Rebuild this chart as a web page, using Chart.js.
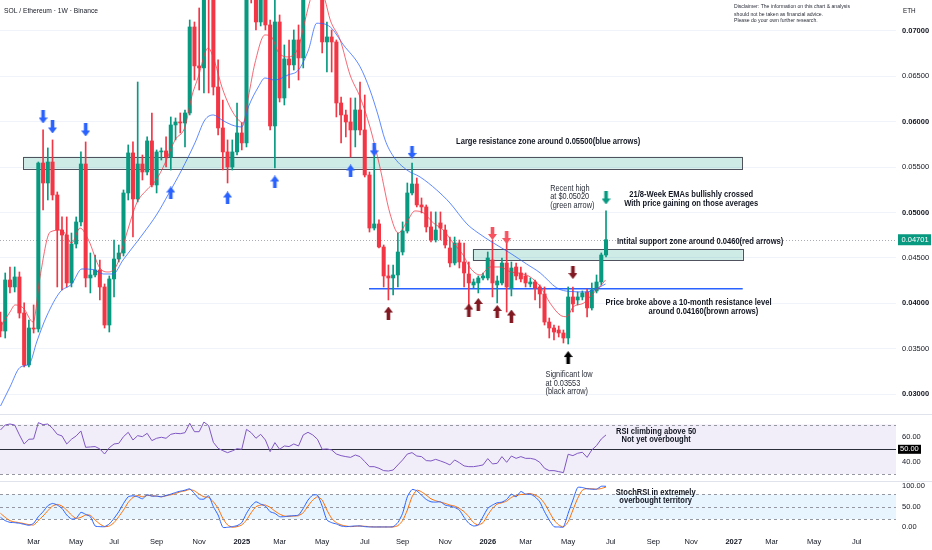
<!DOCTYPE html>
<html>
<head>
<meta charset="utf-8">
<script src="https://cdn.jsdelivr.net/npm/chart.js@4.4.1/dist/chart.umd.min.js"></script>
<style>
  html, body { margin: 0; padding: 0; background: #fff; }
  #wrap { position: relative; width: 932px; height: 550px; overflow: hidden; }
  .pane { position: absolute; left: 0; width: 932px; }
  #p1 { top: 0; height: 414px; }
  #p2 { top: 414px; height: 67px; }
  #p3 { top: 481px; height: 69px; }
  .sep { position: absolute; left: 0; width: 932px; height: 1px; background: #E0E3EB; z-index: 5; }
</style>
</head>
<body>
<div id="wrap">
  <div class="pane" id="p1"><canvas id="main"></canvas></div>
  <div class="pane" id="p2"><canvas id="rsi"></canvas></div>
  <div class="pane" id="p3"><canvas id="stoch"></canvas></div>
  <div class="sep" style="top:414px"></div>
  <div class="sep" style="top:481px"></div>
</div>
<script>
// weekly candles, SOL/ETH, week 0 = mid Jan 2024
const open = [0.03795,0.03696,0.04258,0.04181,0.04291,0.03894,0.03322,0.03729,0.03718,0.05546,
  0.05326,0.05557,0.05194,0.04808,0.04753,0.04225,0.04654,0.04897,0.05535,0.04280,
  0.04313,0.04368,0.04181,0.03762,0.04269,0.04489,0.04555,0.05216,0.05657,0.05150,
  0.05535,0.05447,0.05789,0.05304,0.05668,0.05679,0.05612,0.05965,0.05998,0.05987,
  0.06097,0.07044,0.06615,0.06593,0.07452,0.07363,0.06383,0.05932,0.05668,0.05502,
  0.05668,0.05877,0.05767,0.07507,0.07396,0.07099,0.07452,0.07066,0.05954,0.07099,
  0.06262,0.06692,0.06626,0.06901,0.06703,0.07562,0.07837,0.07727,0.07396,0.06879,
  0.06934,0.06879,0.06207,0.06075,0.05998,0.05910,0.06130,0.05910,0.05414,0.04830,
  0.04875,0.04621,0.04302,0.04280,0.04313,0.04566,0.04797,0.05216,0.05315,0.05084,
  0.05062,0.04842,0.04698,0.04886,0.04808,0.04610,0.04445,0.04665,0.04456,0.04324,
  0.04203,0.04225,0.04280,0.04280,0.04478,0.04203,0.04225,0.04445,0.04170,0.04401,
  0.04335,0.04302,0.04214,0.04236,0.04181,0.04104,0.03795,0.03729,0.03707,0.03674,
  0.03619,0.04071,0.04038,0.04071,0.04126,0.03950,0.04137,0.04236,0.04533];
const high = [0.03905,0.04335,0.04401,0.04401,0.04346,0.04005,0.03817,0.03983,0.05557,0.05910,
  0.05712,0.05800,0.05227,0.04952,0.04952,0.04775,0.04952,0.05668,0.05778,0.04555,
  0.04533,0.04478,0.04214,0.04302,0.04698,0.04643,0.05249,0.05745,0.05778,0.06438,
  0.05634,0.05833,0.06097,0.05690,0.05712,0.05833,0.06053,0.06042,0.06097,0.06130,
  0.07121,0.07099,0.07253,0.07672,0.07727,0.07452,0.06681,0.06240,0.05800,0.05800,
  0.06207,0.05987,0.07672,0.07650,0.07562,0.07562,0.07507,0.07121,0.07396,0.07176,
  0.06846,0.06901,0.07011,0.07066,0.07672,0.07947,0.07947,0.07892,0.07507,0.07099,
  0.07011,0.06901,0.06273,0.06130,0.06262,0.06262,0.06438,0.06295,0.05447,0.05634,
  0.04919,0.04643,0.04423,0.04423,0.04775,0.04897,0.05326,0.05546,0.05381,0.05161,
  0.05084,0.05007,0.05007,0.05007,0.04864,0.04731,0.04731,0.04698,0.04665,0.04456,
  0.04269,0.04302,0.04335,0.04566,0.04698,0.04302,0.04500,0.04698,0.04456,0.04445,
  0.04401,0.04335,0.04280,0.04258,0.04203,0.04181,0.03839,0.03762,0.03751,0.03707,
  0.04181,0.04181,0.04126,0.04137,0.04159,0.04225,0.04313,0.04555,0.05020];
const low = [0.03630,0.03619,0.04115,0.04126,0.03839,0.03300,0.03300,0.03674,0.03685,0.05029,
  0.05139,0.05139,0.04181,0.04148,0.04181,0.04181,0.04610,0.04853,0.04181,0.04115,
  0.04291,0.04038,0.03729,0.03685,0.04071,0.04456,0.04522,0.05139,0.04731,0.05117,
  0.05359,0.05414,0.05282,0.05216,0.05579,0.05502,0.05469,0.05800,0.05877,0.05723,
  0.06075,0.06460,0.06350,0.06317,0.06317,0.06295,0.05855,0.05469,0.05326,0.05469,
  0.05634,0.05690,0.05723,0.07308,0.07011,0.07055,0.07011,0.05910,0.05491,0.06218,
  0.06185,0.06372,0.06570,0.06460,0.06593,0.07452,0.07562,0.07363,0.06758,0.06548,
  0.06548,0.06053,0.05767,0.05833,0.05612,0.05723,0.05855,0.05392,0.04786,0.04808,
  0.04610,0.04181,0.04038,0.04093,0.04181,0.04533,0.04775,0.05194,0.05062,0.04996,
  0.04786,0.04676,0.04676,0.04698,0.04610,0.04401,0.04423,0.04390,0.04181,0.03961,
  0.04170,0.04115,0.04258,0.04258,0.04071,0.04005,0.04203,0.03905,0.04082,0.04258,
  0.04236,0.04181,0.04181,0.04038,0.03950,0.03762,0.03619,0.03597,0.03630,0.03564,
  0.03553,0.03905,0.03983,0.04038,0.03850,0.03927,0.04115,0.04203,0.04511];
const close = [0.03696,0.04258,0.04181,0.04291,0.03894,0.03322,0.03729,0.03718,0.05546,0.05326,
  0.05557,0.05194,0.04808,0.04753,0.04225,0.04654,0.04897,0.05535,0.04280,0.04313,
  0.04368,0.04181,0.03762,0.04269,0.04489,0.04555,0.05216,0.05657,0.05150,0.05535,
  0.05447,0.05789,0.05304,0.05668,0.05679,0.05612,0.05965,0.05998,0.05987,0.06097,
  0.07044,0.06615,0.06593,0.07452,0.07363,0.06383,0.05932,0.05668,0.05502,0.05668,
  0.05877,0.05767,0.07507,0.07396,0.07099,0.07452,0.07066,0.05954,0.07099,0.06262,
  0.06692,0.06626,0.06901,0.06703,0.07562,0.07837,0.07727,0.07396,0.06879,0.06934,
  0.06879,0.06207,0.06075,0.05998,0.05910,0.06130,0.05910,0.05414,0.04830,0.04875,
  0.04621,0.04302,0.04280,0.04313,0.04566,0.04797,0.05216,0.05315,0.05084,0.05062,
  0.04842,0.04698,0.04808,0.04830,0.04643,0.04445,0.04665,0.04456,0.04335,0.04225,
  0.04236,0.04280,0.04302,0.04500,0.04225,0.04247,0.04445,0.04181,0.04390,0.04302,
  0.04269,0.04225,0.04236,0.04170,0.04104,0.03795,0.03729,0.03685,0.03674,0.03619,
  0.04071,0.03994,0.04071,0.04115,0.03950,0.04148,0.04236,0.04533,0.04701];

// 8 and 21 week EMAs: [week, price]
const ema8Week = [0,2,3.1,4.8,6.9,8.35,10.5,12.9,15.05,16.8,18.6,21,22.8,24.6,26.7,28.8,30.9,32.9,34.8,36.9,
  39,40.4,41.8,43.9,45.35,46.8,48.5,50.3,51.3,52.4,53.8,55.9,57.3,58.7,60.8,63,64.4,65.8,67.2,68.6,
  69.7,71.8,73.9,76,78.1,80.2,82.3,84.1,85.9,87.6,89.4,91.5,93.6,95.7,97.8,99.3,101.4,103.5,105.6,107.7,
  109.8,111.9,114.1,116.2,118.3,119.7,121.1,123.2,125.3,126.7,127.9];
const ema8 = [0.03740,0.03905,0.03983,0.03950,0.03795,0.04291,0.04786,0.04808,0.04665,0.04830,
  0.04698,0.04390,0.04346,0.04423,0.04775,0.05106,0.05249,0.05359,0.05546,0.05800,
  0.05943,0.06273,0.06493,0.06813,0.06648,0.06383,0.06163,0.06020,0.05987,0.06273,
  0.06648,0.06956,0.06934,0.06769,0.06714,0.06824,0.07121,0.07396,0.07520,0.07341,
  0.07121,0.06901,0.06515,0.06273,0.05943,0.05502,0.04996,0.04775,0.04897,0.05018,
  0.04996,0.04886,0.04808,0.04665,0.04533,0.04390,0.04313,0.04401,0.04401,0.04349,
  0.04331,0.04294,0.04184,0.04001,0.03872,0.03853,0.03964,0.04001,0.04111,0.04184,0.04258];
const ema21Week = [0,2,4.1,6.2,7.65,9.77,12.6,15.05,17.2,19.6,21.7,23.8,25.9,28,30.1,33.1,35.4,38.3,41.1,43.2,
  45,46.8,48.9,51,52.4,54.5,55.9,58,60.8,63,65.1,66.85,69.7,72.5,76,78.1,79.8,81.3,83,85.9,
  88.7,92.2,95,98.6,100.7,104.2,107.7,111.2,114.1,117.6,120.4,123.9,126.7,127.9];
const ema21 = [0.02870,0.03079,0.03294,0.03344,0.03575,0.03861,0.04126,0.04214,0.04379,0.04373,
  0.04324,0.04324,0.04478,0.04621,0.04764,0.04985,0.05194,0.05469,0.05767,0.06020,
  0.06075,0.06020,0.05965,0.05943,0.06163,0.06383,0.06482,0.06460,0.06516,0.06571,
  0.06791,0.07085,0.07044,0.06846,0.06607,0.06350,0.06075,0.05800,0.05623,0.05469,
  0.05392,0.05249,0.05106,0.04875,0.04786,0.04665,0.04555,0.04434,0.04335,0.04170,
  0.04131,0.04126,0.04181,0.04214];

// RSI(14) and Stoch RSI K / D, one value per candle
const rsi = [65.6,69.6,70.4,69.6,61.6,54.3,58.1,58.3,71.5,69.9,70.4,66.9,62.1,60.8,54.3,58.1,60.8,64.8,51.6,51.9,
  52.2,50.3,46.2,51.3,54.3,54.8,60.2,63.7,57.5,61.0,60.2,62.9,57.0,58.9,59.7,58.9,62.1,62.9,62.6,63.4,
  71.0,64.2,64.2,72.0,69.1,55.6,50.8,48.9,47.3,48.7,50.5,50.0,66.1,63.4,58.9,62.1,57.5,48.1,55.4,50.0,
  52.7,52.2,54.3,52.7,61.6,63.7,61.6,58.1,50.0,50.3,49.5,46.2,44.9,44.1,43.5,45.4,44.1,40.1,36.0,36.0,
  34.7,32.8,32.5,33.3,37.4,41.4,46.2,47.3,44.6,44.1,40.9,40.6,41.9,40.6,39.2,37.4,41.4,39.2,36.6,36.0,
  36.0,36.6,37.4,42.5,38.2,38.7,44.1,39.5,44.6,42.7,44.1,42.7,42.7,41.9,39.5,34.7,32.8,32.8,32.0,31.2,
  46.0,44.9,46.8,47.6,43.5,49.5,53.0,58.3,61.6];
const stochK = [24.3,16.2,12.1,11.3,9.7,7.3,4.9,9.7,25.9,38,52.5,58.2,54.2,46.1,29.9,20.2,21.8,36.4,31.5,25.9,
  3.2,1.6,1.6,8.1,21.8,38,58.2,74.4,76.8,74.4,69.5,79.2,76,76,74.4,77.6,80.8,84.9,88.1,90.5,
  93.8,82.5,69.5,68.7,76.8,50.1,29.9,0,0,1.6,4,11.3,34,51.7,62.2,56.6,51.7,38,34,25.9,
  25.9,27.5,28.3,29.9,46.1,66.3,78.4,78.4,51.7,17.8,11.3,8.1,3.2,1.6,2.4,3.2,3.2,1.6,0.8,0.8,
  0.8,0.8,0.8,1.6,11.3,34,74.4,92.2,88.9,78.4,67.9,62.2,61.4,62.2,54.2,51.7,48.5,42,24.3,9.7,
  3.2,5.7,25.9,46.1,54.2,59.8,61.4,67.9,80.8,74.4,87.3,80.8,80.8,74.4,62.2,38,17.8,1.6,0.8,0.8,
  34,66.3,97,97,93.8,93,93,100,100];
const stochD = [34,24.3,16.2,12.9,11.3,8.9,6.5,5.7,16.2,27.5,40.4,51.7,55.8,51.7,42,29.9,21.8,24.3,29.9,29.1,
  17.8,8.1,1.6,3.2,11.3,25.9,42,60.6,72.8,77.6,74.4,77.6,76.8,76,74.4,76.8,79.2,82.5,86.5,88.9,
  92.2,88.9,80.8,74.4,72.8,62.2,46.1,21.8,5.7,0,1.6,5.7,17.8,35.6,50.1,54.2,54.2,48.5,39.6,32.3,
  27.5,26.7,27.5,28.3,35.6,51.7,66.3,74.4,66.3,42,21.8,11.3,5.7,3.2,1.6,2.4,3.2,2.4,1.6,0.8,
  0.8,0.8,0.8,0.8,4,16.2,42,74.4,90.5,86.5,78.4,69.5,64.7,61.4,58.2,54.2,51.7,46.1,38,25.9,
  11.3,5.7,11.3,29.9,46.1,56.6,59.8,63.9,72.8,77.6,80,80.8,82.5,78.4,72,58.2,38,17.8,5.7,0.8,
  13.7,42,70.3,90.5,94.6,93.8,93,94.6,98.4];

// axis ticks
const priceTicks = [0.03, 0.035, 0.04, 0.045, 0.05, 0.055, 0.06, 0.065, 0.07];
const rsiTicks = [40, 60];
const stochTicks = [0, 50, 100];
const tickWeeks = [7, 16, 24, 33, 42, 51, 59, 68, 77, 85, 94, 103, 111, 120, 129, 138, 146, 155, 163, 172, 181];
const tickLabels = ['Mar', 'May', 'Jul', 'Sep', 'Nov', '2025', 'Mar', 'May', 'Jul', 'Sep', 'Nov',
  '2026', 'Mar', 'May', 'Jul', 'Sep', 'Nov', '2027', 'Mar', 'May', 'Jul'];

// drawings: arrows [week, price], zones, level line
const blueDown = [[9, 0.06053], [11, 0.05943], [18, 0.05910], [79, 0.05690], [87, 0.05663]];
const blueUp = [[36, 0.05216], [48, 0.05161], [58, 0.05337], [74, 0.05458]];
const brownUp = [[82, 0.03894], [99, 0.03927], [101, 0.03988], [105, 0.03911], [108, 0.03861]];
const brownDown = [[121, 0.04340]];
const redDown = [[104, 0.04770], [107, 0.04726]];
const greenDown = [[128, 0.05161]];
const blackUp = [[120, 0.03404]];
const zones = [[4.82, 156.9, 0.05616, 0.05483], [99.8, 156.9, 0.04596, 0.04470]];
const levelLine = [77.9, 156.9, 0.0416];

const FONT = '"Liberation Sans", Arial, sans-serif';
const INK = '#131722';
const UP = '#089981', DOWN = '#F23645';
const X_MIN = -0.106, X_MAX = 189.3;
const AXIS_FONT = 7.5;

Chart.defaults.font.family = FONT;
Chart.defaults.color = INK;
Chart.defaults.animation = false;

const weeks = open.map((_, i) => i);
const candleColor = weeks.map(i => close[i] >= open[i] ? UP : DOWN);

function arrowImg(color, up) {
  const c = document.createElement('canvas');
  c.width = 9; c.height = 13;
  const g = c.getContext('2d');
  g.fillStyle = color;
  g.beginPath();
  if (up) {
    g.moveTo(4.5, 0); g.lineTo(9, 6); g.lineTo(6.3, 6); g.lineTo(6.3, 13);
    g.lineTo(2.7, 13); g.lineTo(2.7, 6); g.lineTo(0, 6);
  } else {
    g.moveTo(2.7, 0); g.lineTo(6.3, 0); g.lineTo(6.3, 7); g.lineTo(9, 7);
    g.lineTo(4.5, 13); g.lineTo(0, 7); g.lineTo(2.7, 7);
  }
  g.closePath();
  g.fill();
  return c;
}

function arrows(list, color, up) {
  return {
    type: 'scatter',
    data: list.map(a => ({ x: a[0], y: a[1] })),
    pointStyle: arrowImg(color, up),
    pointRadius: 6,
    order: -1
  };
}

function xScale(show) {
  return {
    type: 'linear', min: X_MIN, max: X_MAX, offset: false, display: show,
    grid: { display: false, drawTicks: false }, border: { display: false }
  };
}

// fixed axis width, no extra padding from the tick labels
function fitRight(s) {
  s.width = 36;
  s.paddingTop = 0; s.paddingBottom = 0;
}

function majorPrice(c) {
  return c && c.tick && Math.round(c.tick.value * 1000) % 10 === 0;
}

function yearLabel(c) {
  return c && typeof c.index === 'number' && /^\d{4}$/.test(tickLabels[c.index] || '');
}

// text squeezed a little horizontally, like the narrow UI font of the source
function text(ctx, str, x, y, opt) {
  ctx.save();
  ctx.font = (opt.bold ? 'bold ' : '') + (opt.size || 8.6) + 'px ' + FONT;
  ctx.fillStyle = opt.color || INK;
  ctx.textAlign = opt.align || 'left';
  ctx.textBaseline = 'middle';
  ctx.translate(x, y);
  ctx.scale(opt.sx || 0.88, 1);
  ctx.fillText(str, 0, 0);
  ctx.restore();
}

function bandPlugin(id, top, bottom, fill, dashed, solid) {
  return {
    id: id,
    beforeDatasetsDraw(chart) {
      const { ctx, chartArea: a, scales: { y } } = chart;
      ctx.save();
      ctx.fillStyle = fill;
      ctx.fillRect(a.left, y.getPixelForValue(top), a.right - a.left,
        y.getPixelForValue(bottom) - y.getPixelForValue(top));
      ctx.strokeStyle = '#9598A1';
      ctx.lineWidth = 1;
      ctx.setLineDash([3, 3]);
      dashed.forEach(v => {
        const py = Math.round(y.getPixelForValue(v)) + 0.5;
        ctx.beginPath(); ctx.moveTo(a.left, py); ctx.lineTo(a.right, py); ctx.stroke();
      });
      ctx.setLineDash([]);
      if (solid !== null) {
        const py = Math.round(y.getPixelForValue(solid)) + 0.5;
        ctx.strokeStyle = '#2A2E39';
        ctx.beginPath(); ctx.moveTo(a.left, py); ctx.lineTo(a.right, py); ctx.stroke();
      }
      ctx.restore();
    }
  };
}

function rightAxis(min, max, ticks, fmt, font) {
  return {
    position: 'right', min: min, max: max,
    afterBuildTicks: s => { s.ticks = ticks.map(v => ({ value: v })); },
    afterFit: fitRight,
    grid: { display: false, drawTicks: false },
    border: { display: false },
    ticks: { padding: 6, color: INK, font: font || { size: AXIS_FONT }, callback: fmt }
  };
}

const baseOptions = {
  responsive: true, maintainAspectRatio: false,
  layout: { padding: 0, autoPadding: false },
  plugins: { legend: { display: false }, tooltip: { enabled: false } }
};

// ---------- main price pane ----------
const mainDrawings = {
  id: 'mainDrawings',
  beforeDatasetsDraw(chart) {
    const { ctx, chartArea: a, scales: { x, y } } = chart;
    ctx.save();
    // last price dotted line
    const ly = Math.round(y.getPixelForValue(close[close.length - 1])) + 0.5;
    ctx.strokeStyle = '#A9ACB5';
    ctx.lineWidth = 1;
    ctx.setLineDash([1, 2]);
    ctx.beginPath(); ctx.moveTo(a.left, ly); ctx.lineTo(a.right, ly); ctx.stroke();
    ctx.setLineDash([]);
    // zones
    zones.forEach(z => {
      const x0 = x.getPixelForValue(z[0]), x1 = x.getPixelForValue(z[1]);
      const y0 = y.getPixelForValue(z[2]), y1 = y.getPixelForValue(z[3]);
      ctx.fillStyle = 'rgba(8,153,129,0.2)';
      ctx.fillRect(x0, y0, x1 - x0, y1 - y0);
      ctx.strokeStyle = '#50535E';
      ctx.lineWidth = 1;
      ctx.strokeRect(Math.round(x0) + 0.5, Math.round(y0) + 0.5, Math.round(x1 - x0), Math.round(y1 - y0));
    });
    // 10-month resistance level
    const py = y.getPixelForValue(levelLine[2]);
    ctx.strokeStyle = '#2962FF';
    ctx.lineWidth = 1.5;
    ctx.beginPath();
    ctx.moveTo(x.getPixelForValue(levelLine[0]), py);
    ctx.lineTo(x.getPixelForValue(levelLine[1]), py);
    ctx.stroke();
    ctx.restore();
  },
  afterDatasetsDraw(chart) {
    const { ctx, scales: { x, y } } = chart;
    const note = (w, p, s, opt) => text(ctx, s, x.getPixelForValue(w), y.getPixelForValue(p), opt);
    const B = { bold: true };
    const BC = { bold: true, align: 'center' };
    const R = { size: 8.4, color: '#2A2E39' };
    note(96.3, 0.05781, 'Large resistance zone around 0.05500(blue arrows)', B);
    note(116.2, 0.05267, 'Recent high', R);
    note(116.2, 0.05175, 'at $0.05020', R);
    note(116.2, 0.05076, '(green arrow)', R);
    note(146.0, 0.05194, '21/8-Week EMAs bullishly crossed', BC);
    note(146.0, 0.05095, 'With price gaining on those averages', BC);
    note(130.3, 0.04680, 'Intital support zone around 0.0460(red arrows)', B);
    note(145.45, 0.04008, 'Price broke above a 10-month resistance level', BC);
    note(148.6, 0.03909, 'around 0.04160(brown arrows)', BC);
    note(115.2, 0.03219, 'Significant low', R);
    note(115.2, 0.03120, 'at 0.03553', R);
    note(115.2, 0.03024, '(black arrow)', R);
  },
  afterDraw(chart) {
    const { ctx, scales: { y } } = chart;
    text(ctx, 'SOL / Ethereum · 1W · Binance', 4, 10.5, { size: 7.6 });
    text(ctx, 'Disclaimer: The information on this chart & analysis', 734, 6.7, { size: 5.8, color: '#2A2E39' });
    text(ctx, 'should not be taken as financial advice.', 734, 14.2, { size: 5.8, color: '#2A2E39' });
    text(ctx, 'Please do your own further research.', 734, 20.7, { size: 5.8, color: '#2A2E39' });
    text(ctx, 'ETH', 903, 10.7, { size: 7.2 });
    const last = close[close.length - 1];
    const ly = y.getPixelForValue(last);
    ctx.save();
    ctx.fillStyle = UP;
    ctx.fillRect(898, ly - 5.5, 33, 11);
    ctx.restore();
    text(ctx, last.toFixed(5), 901.5, ly, { size: AXIS_FONT, color: '#FFFFFF', sx: 1 });
  }
};

const priceAxis = rightAxis(0.02782, 0.07341, priceTicks, v => v.toFixed(5),
  c => ({ size: AXIS_FONT, weight: majorPrice(c) ? 'bold' : 'normal' }));
priceAxis.grid = { display: true, color: '#F0F3FA', drawTicks: false };

new Chart(document.getElementById('main'), {
  type: 'bar',
  data: {
    datasets: [
      arrows(blueDown, '#2962FF', false),
      arrows(blueUp, '#2962FF', true),
      arrows(brownUp, '#801922', true),
      arrows(brownDown, '#801922', false),
      arrows(redDown, '#F7525F', false),
      arrows(greenDown, UP, false),
      arrows(blackUp, '#000000', true),
      {
        type: 'line', data: ema8Week.map((w, k) => ({ x: w, y: ema8[k] })),
        borderColor: 'rgba(242,54,69,0.75)', borderWidth: 1, pointRadius: 0,
        cubicInterpolationMode: 'monotone', order: 1
      },
      {
        type: 'line', data: ema21Week.map((w, k) => ({ x: w, y: ema21[k] })),
        borderColor: 'rgba(41,98,255,0.75)', borderWidth: 1, pointRadius: 0,
        cubicInterpolationMode: 'monotone', order: 1
      },
      {
        data: weeks.map(i => ({ x: i, y: [open[i], close[i]] })),
        backgroundColor: candleColor, barThickness: 3.4, minBarLength: 1,
        grouped: false, borderWidth: 0, order: 2
      },
      {
        data: weeks.map(i => ({ x: i, y: [low[i], high[i]] })),
        backgroundColor: candleColor, barThickness: 1,
        grouped: false, borderWidth: 0, order: 3
      }
    ]
  },
  options: Object.assign({}, baseOptions, { scales: { x: xScale(false), y: priceAxis } }),
  plugins: [mainDrawings]
});

// ---------- RSI pane ----------
const rsiExtras = {
  id: 'rsiExtras',
  afterDatasetsDraw(chart) {
    const { ctx, scales: { x, y } } = chart;
    text(ctx, 'RSI climbing above 50', x.getPixelForValue(138.6), y.getPixelForValue(64.2), { bold: true, align: 'center' });
    text(ctx, 'Not yet overbought', x.getPixelForValue(138.6), y.getPixelForValue(57.5), { bold: true, align: 'center' });
  },
  afterDraw(chart) {
    const { ctx, scales: { y } } = chart;
    const py = y.getPixelForValue(50);
    ctx.save();
    ctx.fillStyle = '#000000';
    ctx.fillRect(898, py - 4.5, 23, 9);
    ctx.restore();
    text(ctx, '50.00', 900, py, { size: AXIS_FONT, color: '#FFFFFF', sx: 1 });
  }
};

new Chart(document.getElementById('rsi'), {
  type: 'line',
  data: {
    datasets: [{
      data: weeks.map(i => ({ x: i, y: rsi[i] })),
      borderColor: '#7E57C2', borderWidth: 1, pointRadius: 0, tension: 0
    }]
  },
  options: Object.assign({}, baseOptions, {
    scales: { x: xScale(false), y: rightAxis(24.44, 78.47, rsiTicks, v => v.toFixed(2)) }
  }),
  plugins: [bandPlugin('rsiBand', 70, 30, 'rgba(126,87,194,0.1)', [70, 30], 50), rsiExtras]
});

// ---------- Stoch RSI pane ----------
const stochExtras = {
  id: 'stochExtras',
  afterDatasetsDraw(chart) {
    const { ctx, scales: { x, y } } = chart;
    text(ctx, 'StochRSI in extremely', x.getPixelForValue(138.5), y.getPixelForValue(85.6), { bold: true, align: 'center' });
    text(ctx, 'overbought territory', x.getPixelForValue(138.5), y.getPixelForValue(64.5), { bold: true, align: 'center' });
  }
};

const timeAxis = xScale(true);
timeAxis.afterBuildTicks = s => { s.ticks = tickWeeks.map(v => ({ value: v })); };
timeAxis.afterFit = s => { s.height = 18; s.paddingLeft = 0; s.paddingRight = 0; };
timeAxis.ticks = {
  padding: 5, color: INK, maxRotation: 0, autoSkip: false,
  callback: (v, i) => tickLabels[i],
  font: c => ({ size: AXIS_FONT, weight: yearLabel(c) ? 'bold' : 'normal' })
};

new Chart(document.getElementById('stoch'), {
  type: 'line',
  data: {
    datasets: [
      { data: weeks.map(i => ({ x: i, y: stochK[i] })), borderColor: '#2962FF', borderWidth: 1, pointRadius: 0, tension: 0.2 },
      { data: weeks.map(i => ({ x: i, y: stochD[i] })), borderColor: '#FF6D00', borderWidth: 1, pointRadius: 0, tension: 0.2 }
    ]
  },
  options: Object.assign({}, baseOptions, {
    scales: { x: timeAxis, y: rightAxis(-11.5, 112.9, stochTicks, v => v.toFixed(2)) }
  }),
  plugins: [bandPlugin('stochBand', 80, 20, 'rgba(33,150,243,0.1)', [80, 50, 20], null), stochExtras]
});
</script>
</body>
</html>
